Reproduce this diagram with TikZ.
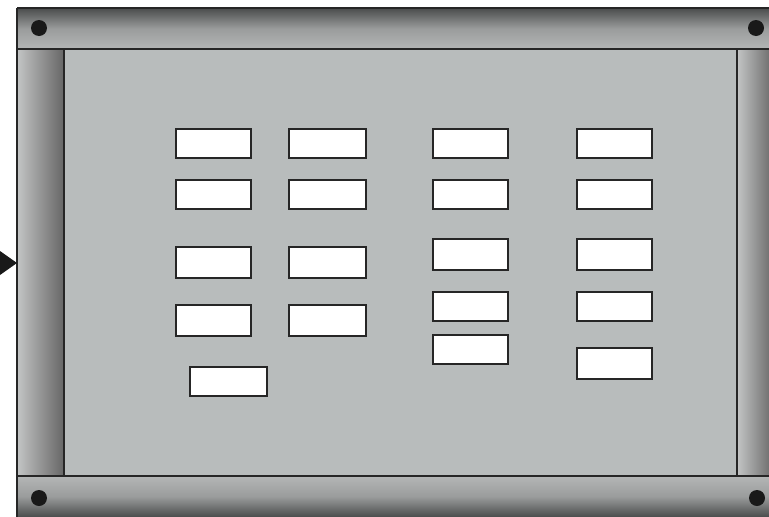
\documentclass[tikz,border=0pt]{standalone}
\usetikzlibrary{shadings}
\definecolor{panel}{HTML}{B8BCBC}
\definecolor{bardark}{HTML}{4A4C4C}
\definecolor{barmid}{HTML}{9A9C9C}
\definecolor{barlight}{HTML}{B4B6B6}
\tikzset{
  slot/.style={draw=black!85, line width=1.3pt, fill=white, anchor=north west,
    inner sep=0pt, outer sep=0pt, minimum width=75pt, minimum height=29pt},
  tall/.style={minimum height=31pt},
  wide/.style={minimum width=77pt},
  edge/.style={draw=black!85, line width=1.2pt},
  boltfill/.style={fill=black!90},
}
\begin{document}
\begin{tikzpicture}[x=1pt,y=-1pt]
\useasboundingbox (0,0) rectangle (769,517);
% inner panel
\fill[panel] (64,49) rectangle (737,476);
% top bar
\shade[top color=bardark, bottom color=barlight, middle color=barmid] (17,8) rectangle (769,49);
% bottom bar
\shade[top color=barlight, bottom color=bardark, middle color=barmid] (17,476) rectangle (769,517);
% left pillar
\shade[left color=barlight!80!white, right color=black!60] (17,49) rectangle (64,476);
% right pillar
\shade[left color=barlight!80!white, right color=black!55] (737,49) rectangle (769,476);
% outlines
\draw[edge] (17,8) -- (769,8);
\draw[edge] (17,8) -- (17,517);
\draw[edge] (17,49) -- (769,49);
\draw[edge] (17,476) -- (769,476);
\draw[edge] (64,49) -- (64,476);
\draw[edge] (737,49) -- (737,476);
% bolts
\coordinate (b1) at (39,28);
\coordinate (b2) at (756,28);
\coordinate (b3) at (39,498);
\coordinate (b4) at (757,498);
\foreach \b in {b1,b2,b3,b4} \fill[boltfill] (\b) circle[radius=8];
% arrow
\fill[black!90] (0,251) -- (17,263) -- (0,275) -- cycle;
% column 1
\node[slot] (c1r1) at (176,129) {};
\node[slot] (c1r2) at (176,180) {};
\node[slot, tall] (c1r3) at (176,247) {};
\node[slot, tall] (c1r4) at (176,305) {};
\node[slot, wide] (c1r5) at (190,367) {};
% column 2
\node[slot, wide] (c2r1) at (289,129) {};
\node[slot, wide] (c2r2) at (289,180) {};
\node[slot, wide, tall] (c2r3) at (289,247) {};
\node[slot, wide, tall] (c2r4) at (289,305) {};
% column 3
\node[slot] (c3r1) at (433,129) {};
\node[slot] (c3r2) at (433,180) {};
\node[slot, tall] (c3r3) at (433,239) {};
\node[slot] (c3r4) at (433,292) {};
\node[slot] (c3r5) at (433,335) {};
% column 4
\node[slot] (c4r1) at (577,129) {};
\node[slot] (c4r2) at (577,180) {};
\node[slot, tall] (c4r3) at (577,239) {};
\node[slot] (c4r4) at (577,292) {};
\node[slot, tall] (c4r5) at (577,348) {};
\end{tikzpicture}
\end{document}
